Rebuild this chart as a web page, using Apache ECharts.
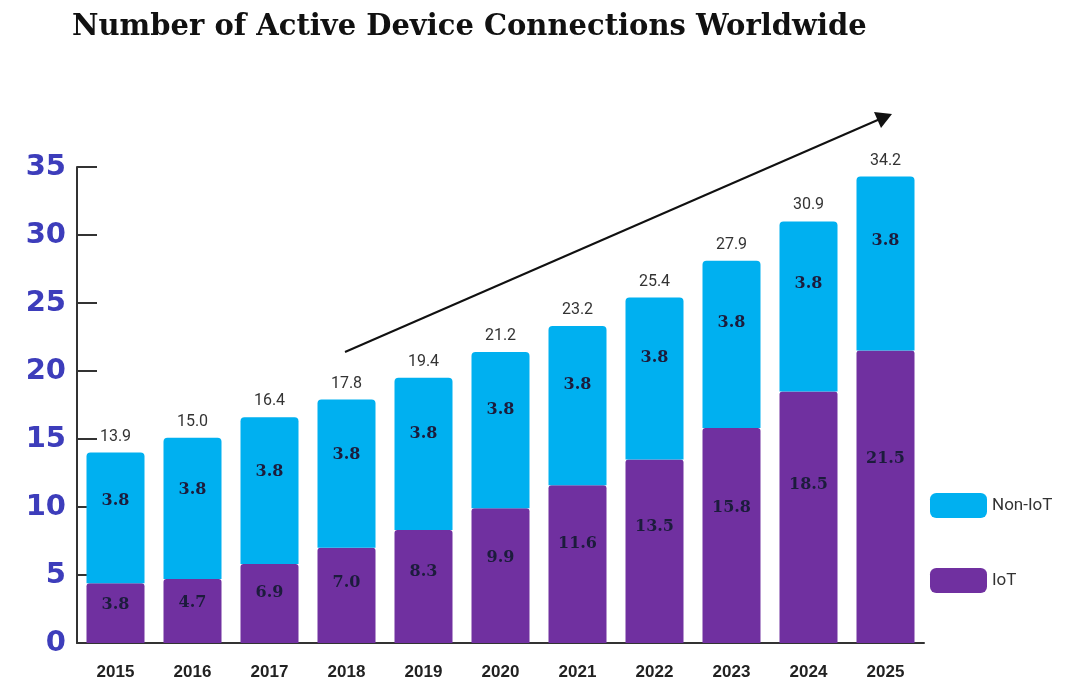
<!DOCTYPE html>
<html>
<head>
<meta charset="utf-8">
<script src="https://cdn.jsdelivr.net/npm/echarts@6/dist/echarts.min.js"></script>
<style>html,body{margin:0;padding:0;background:#fff}#c{width:1089px;height:686px}</style>
</head>
<body>
<div id="c"></div>
<script>
const years = ['2015','2016','2017','2018','2019','2020','2021','2022','2023','2024','2025'];
const iotValues = [4.4, 4.7, 5.8, 7.0, 8.3, 9.9, 11.6, 13.5, 15.8, 18.5, 21.5];
const iotLabels = ['3.8','4.7','6.9','7.0','8.3','9.9','11.6','13.5','15.8','18.5','21.5'];
const nonIotValues = [9.6, 10.4, 10.8, 10.9, 11.2, 11.5, 11.7, 11.9, 12.3, 12.5, 12.8];
const nonIotLabels = ['3.8','3.8','3.8','3.8','3.8','3.8','3.8','3.8','3.8','3.8','3.8'];
const totalLabels = ['13.9','15.0','16.4','17.8','19.4','21.2','23.2','25.4','27.9','30.9','34.2'];
const yTicks = [0, 5, 10, 15, 20, 25, 30, 35];

const chart = echarts.init(document.getElementById('c'));
const segLabel = {
  show: true,
  position: ['50%', '37%'],
  align: 'center',
  verticalAlign: 'middle',
  fontFamily: 'DejaVu Serif',
  fontWeight: 'bold',
  fontSize: 16,
  color: '#1c1c3c'
};
chart.setOption({
  animation: false,
  backgroundColor: '#fff',
  title: {
    text: 'Number of Active Device Connections Worldwide',
    left: 67, top: 8,
    textStyle: { fontFamily: 'DejaVu Serif', fontWeight: 'bold', fontSize: 29, color: '#111' }
  },
  legend: {
    data: ['Non-IoT', 'IoT'],
    orient: 'vertical',
    left: 925, top: 488,
    itemWidth: 57, itemHeight: 25, itemGap: 50,
    icon: 'roundRect',
    textStyle: { fontFamily: 'Roboto', fontSize: 17, color: '#333' }
  },
  grid: { left: 77, right: 165, top: 167, bottom: 43 },
  xAxis: {
    type: 'category',
    data: years,
    axisLine: { lineStyle: { color: '#333', width: 2 } },
    axisTick: { inside: true, length: 6, lineStyle: { color: '#555', width: 1.5 } },
    axisLabel: { margin: 21, fontFamily: 'Liberation Sans', fontWeight: 'bold', fontSize: 17, color: '#222' }
  },
  yAxis: {
    type: 'value',
    min: 0, max: 35, interval: 5,
    splitLine: { show: false },
    axisLine: { show: true, lineStyle: { color: '#333', width: 2 } },
    axisTick: { show: true, inside: true, length: 20, lineStyle: { color: '#333', width: 2 } },
    axisLabel: {
      margin: 11,
      fontFamily: 'DejaVu Sans', fontWeight: 'bold', fontSize: 29, color: '#3d3dbb',
      formatter: v => yTicks.includes(v) ? String(v) : ''
    }
  },
  series: [
    {
      name: 'IoT', type: 'bar', stack: 'total', barWidth: 58,
      data: iotValues,
      itemStyle: { color: '#7030a0', borderRadius: [3, 3, 0, 0] },
      label: Object.assign({}, segLabel, { formatter: p => iotLabels[p.dataIndex] })
    },
    {
      name: 'Non-IoT', type: 'bar', stack: 'total', barWidth: 58,
      data: nonIotValues,
      itemStyle: { color: '#00b0f0', borderRadius: [4, 4, 0, 0] },
      label: Object.assign({}, segLabel, { formatter: p => nonIotLabels[p.dataIndex] })
    },
    {
      name: 'Total', type: 'bar', stack: 'total', barWidth: 58,
      data: nonIotValues.map(() => 0),
      itemStyle: { color: 'transparent' },
      label: {
        show: true, position: 'top', distance: 8,
        fontFamily: 'Roboto', fontSize: 16, color: '#333',
        formatter: p => totalLabels[p.dataIndex]
      },
      tooltip: { show: false }
    }
  ],
  graphic: [
    {
      type: 'line',
      shape: { x1: 345, y1: 352, x2: 880, y2: 119 },
      style: { stroke: '#111', lineWidth: 2 }
    },
    {
      type: 'polygon',
      shape: { points: [[892, 114], [874, 112], [881, 128]] },
      style: { fill: '#111' }
    }
  ]
});
</script>
</body>
</html>
